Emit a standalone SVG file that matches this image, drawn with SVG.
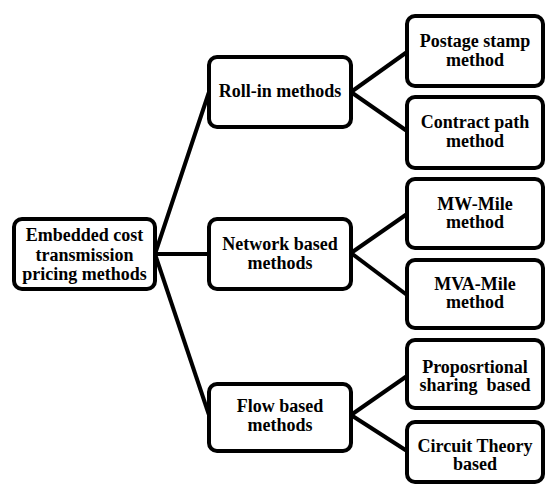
<svg xmlns="http://www.w3.org/2000/svg" width="547" height="486" viewBox="0 0 547 486">
<style>
  .box { fill: #ffffff; stroke: #000000; stroke-width: 4; }
  .lbl { font-family: "Liberation Serif", "Times New Roman", serif; font-weight: bold; font-size: 18px; fill: #000000; text-anchor: middle; }
  .conn { stroke: #000000; stroke-width: 4; fill: none; stroke-linecap: butt; }
</style>
<rect x="0" y="0" width="547" height="486" fill="#ffffff"/>
<g id="connectors">
  <line class="conn" x1="155" y1="254" x2="209" y2="92"/>
  <line class="conn" x1="155" y1="254" x2="209" y2="254"/>
  <line class="conn" x1="155" y1="254" x2="209" y2="415"/>
  <line class="conn" x1="351" y1="92" x2="407" y2="52"/>
  <line class="conn" x1="351" y1="92" x2="407" y2="131"/>
  <line class="conn" x1="351" y1="253" x2="407" y2="214"/>
  <line class="conn" x1="351" y1="253" x2="407" y2="295"/>
  <line class="conn" x1="351" y1="415" x2="407" y2="376"/>
  <line class="conn" x1="351" y1="415" x2="407" y2="451"/>
</g>
<g id="root">
  <rect class="box" x="14" y="219" width="141" height="70" rx="8"/>
  <text class="lbl" x="84.5" y="241">Embedded cost</text>
  <text class="lbl" x="84.5" y="261">transmission</text>
  <text class="lbl" x="84.5" y="280">pricing methods</text>
</g>
<g id="rollin">
  <rect class="box" x="209" y="57" width="142" height="70" rx="8"/>
  <text class="lbl" x="280" y="97">Roll-in methods</text>
</g>
<g id="network">
  <rect class="box" x="209" y="219" width="142" height="70" rx="8"/>
  <text class="lbl" x="280" y="249.5">Network based</text>
  <text class="lbl" x="280" y="268.5">methods</text>
</g>
<g id="flow">
  <rect class="box" x="209" y="384" width="142" height="67" rx="8"/>
  <text class="lbl" x="280" y="412">Flow based</text>
  <text class="lbl" x="280" y="431">methods</text>
</g>
<g id="postage">
  <rect class="box" x="407" y="16" width="136" height="70" rx="8"/>
  <text class="lbl" x="475" y="47">Postage stamp</text>
  <text class="lbl" x="475" y="65.5">method</text>
</g>
<g id="contract">
  <rect class="box" x="407" y="97" width="136" height="71" rx="8"/>
  <text class="lbl" x="475" y="128">Contract path</text>
  <text class="lbl" x="475" y="147">method</text>
</g>
<g id="mwmile">
  <rect class="box" x="407" y="179" width="136" height="69" rx="8"/>
  <text class="lbl" x="475" y="209.5">MW-Mile</text>
  <text class="lbl" x="475" y="228">method</text>
</g>
<g id="mvamile">
  <rect class="box" x="407" y="260" width="136" height="68" rx="8"/>
  <text class="lbl" x="475" y="289.5">MVA-Mile</text>
  <text class="lbl" x="475" y="308">method</text>
</g>
<g id="proportional">
  <rect class="box" x="407" y="340" width="136" height="68" rx="8"/>
  <text class="lbl" x="475" y="372.5">Proposrtional</text>
  <text class="lbl" x="475" y="391" xml:space="preserve" style="white-space:pre">sharing  based</text>
</g>
<g id="circuit">
  <rect class="box" x="407" y="422" width="136" height="60" rx="8"/>
  <text class="lbl" x="475" y="451.5">Circuit Theory</text>
  <text class="lbl" x="475" y="470">based</text>
</g>
</svg>
